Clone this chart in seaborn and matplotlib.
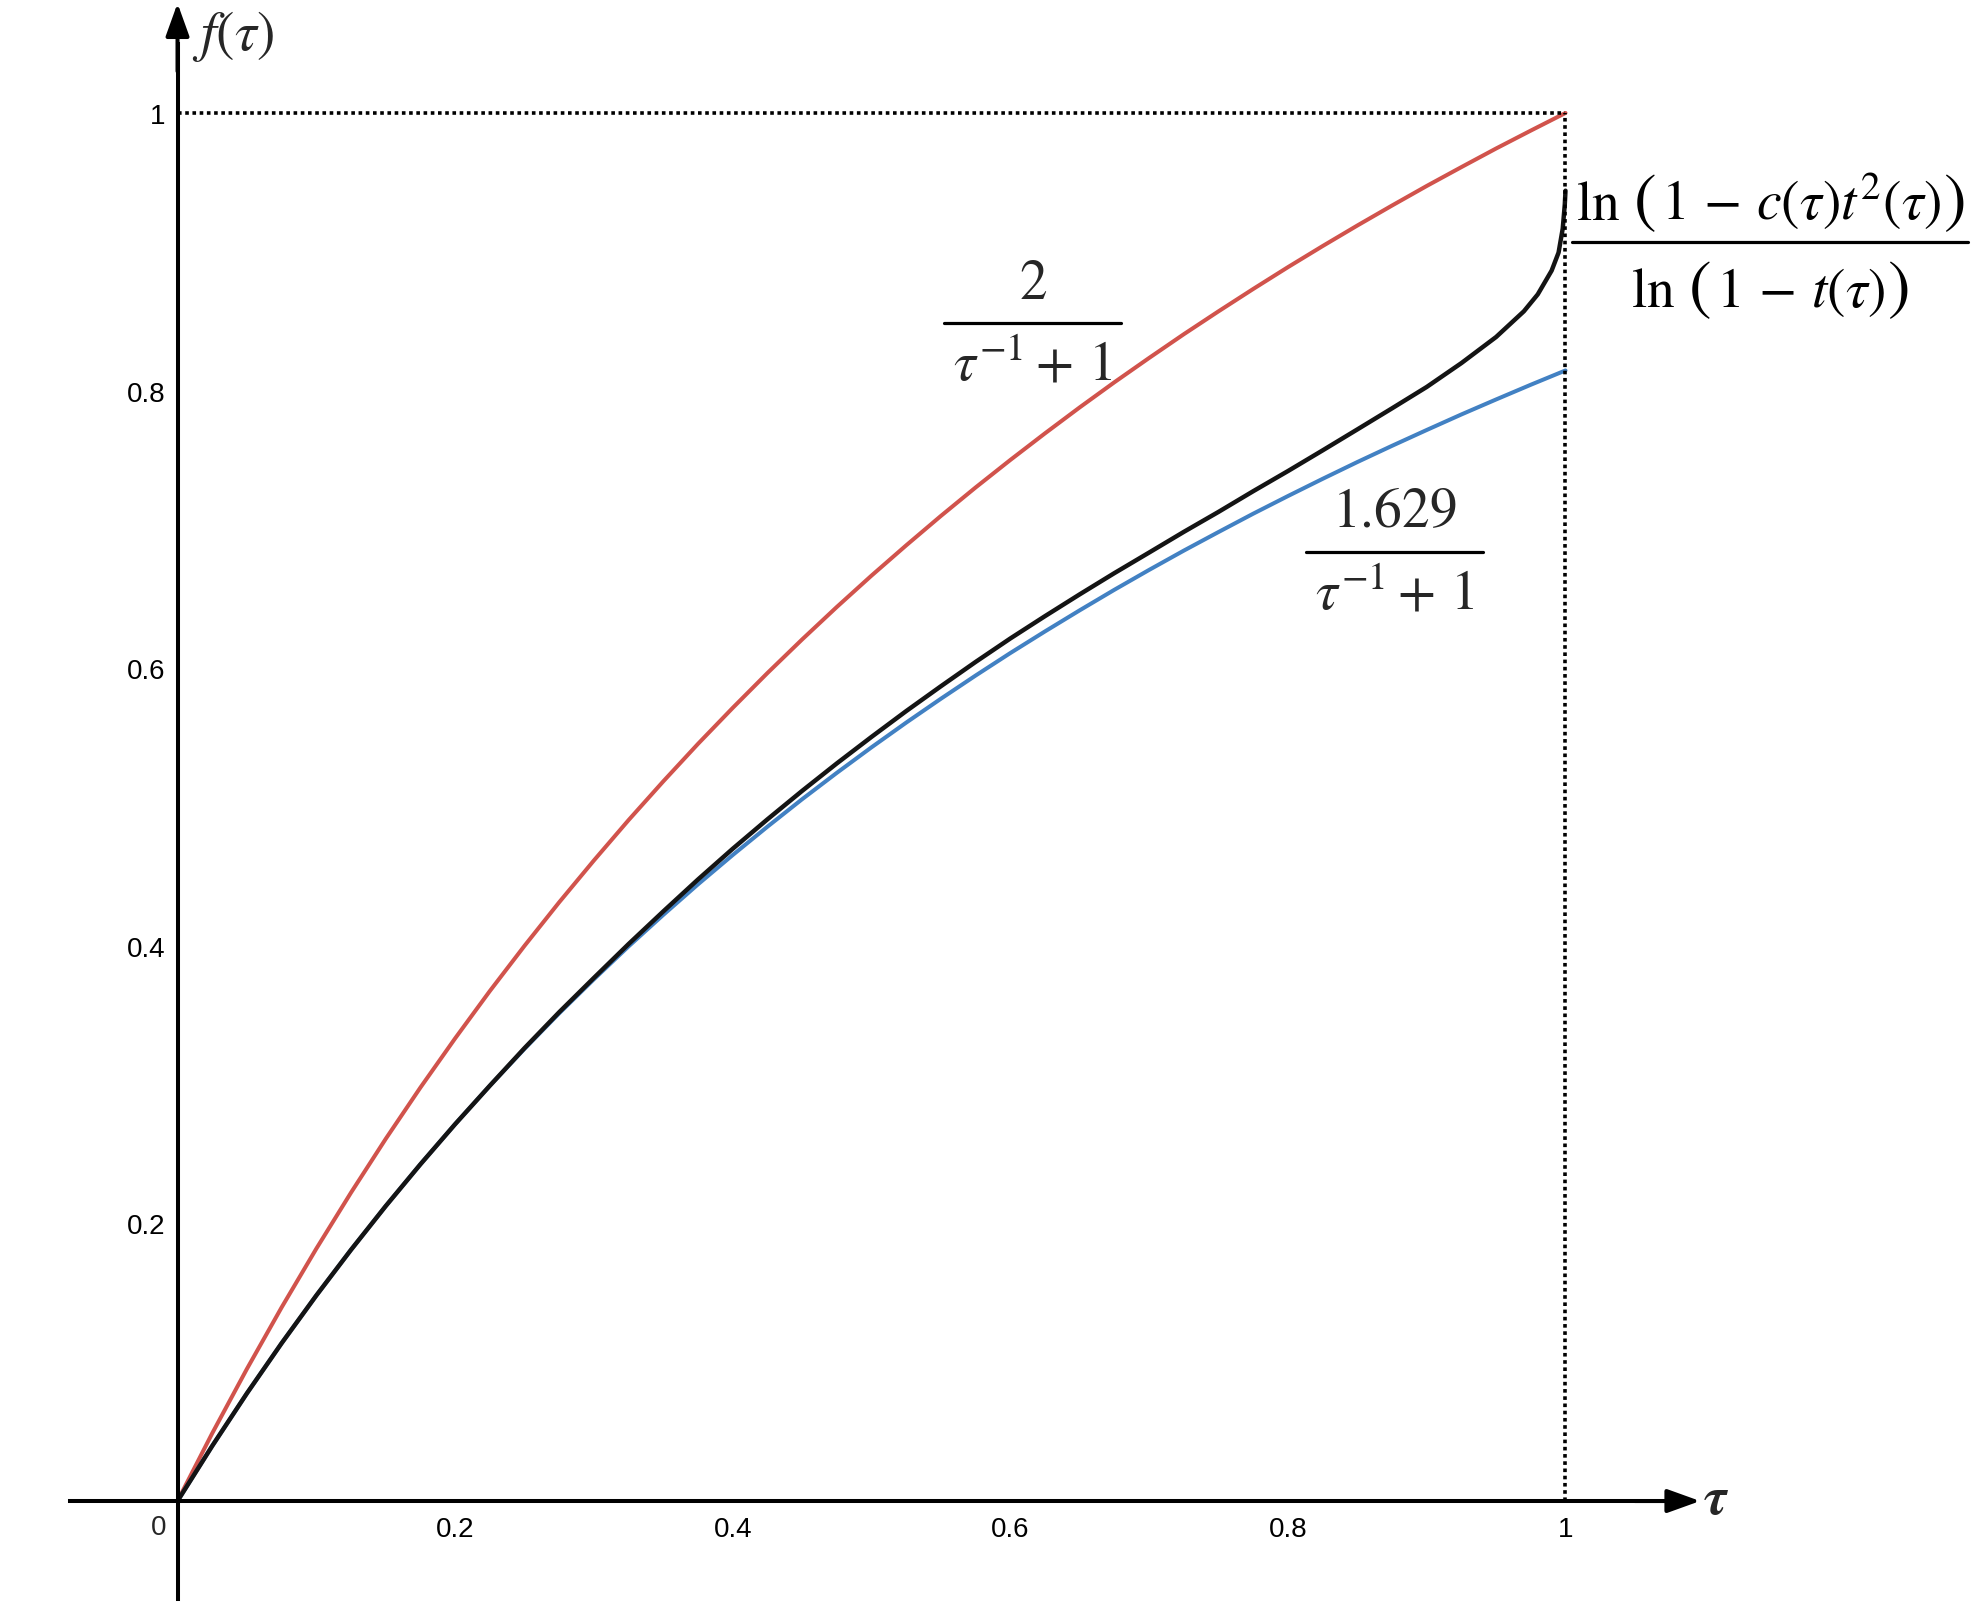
import matplotlib
matplotlib.use("Agg")
import matplotlib.pyplot as plt
from matplotlib.lines import Line2D
from matplotlib.offsetbox import AnnotationBbox, DrawingArea, HPacker, TextArea
from matplotlib.transforms import IdentityTransform
import pandas as pd
import seaborn as sns

# tau grid and the two bound curves
tau = [0.0, 0.025, 0.05, 0.075, 0.1, 0.125, 0.15, 0.175, 0.2, 0.225, 0.25, 0.275,
       0.3, 0.325, 0.35, 0.375, 0.4, 0.425, 0.45, 0.475, 0.5, 0.525, 0.55, 0.575,
       0.6, 0.625, 0.65, 0.675, 0.7, 0.725, 0.75, 0.775, 0.8, 0.825, 0.85, 0.875,
       0.9, 0.925, 0.95, 0.975, 1.0]
upper_bound = [0.0, 0.0488, 0.0952, 0.1395, 0.1818, 0.2222, 0.2609, 0.2979, 0.3333,
               0.3674, 0.4, 0.4314, 0.4615, 0.4906, 0.5185, 0.5455, 0.5714, 0.5965,
               0.6207, 0.6441, 0.6667, 0.6885, 0.7097, 0.7302, 0.75, 0.7692, 0.7879,
               0.806, 0.8235, 0.8406, 0.8571, 0.8732, 0.8889, 0.9041, 0.9189, 0.9333,
               0.9474, 0.961, 0.9744, 0.9873, 1.0]
lower_bound = [0.0, 0.0397, 0.0776, 0.1137, 0.1481, 0.181, 0.2125, 0.2426, 0.2715,
               0.2992, 0.3258, 0.3514, 0.3759, 0.3996, 0.4223, 0.4443, 0.4654, 0.4858,
               0.5056, 0.5246, 0.543, 0.5608, 0.578, 0.5947, 0.6109, 0.6265, 0.6417,
               0.6565, 0.6708, 0.6847, 0.6981, 0.7113, 0.724, 0.7364, 0.7485, 0.7602,
               0.7716, 0.7828, 0.7936, 0.8042, 0.8145]

# the log-ratio curve (black), with extra points where it turns up near tau = 1
tau_ratio = [0.0, 0.025, 0.05, 0.075, 0.1, 0.125, 0.15, 0.175, 0.2, 0.225, 0.25,
             0.275, 0.3, 0.325, 0.35, 0.375, 0.4, 0.425, 0.45, 0.475, 0.5, 0.525,
             0.55, 0.575, 0.6, 0.625, 0.65, 0.675, 0.7, 0.725, 0.75, 0.775, 0.8,
             0.825, 0.85, 0.875, 0.9, 0.925, 0.95, 0.97, 0.98, 0.99, 0.995, 0.998,
             0.9995, 1.0]
log_ratio = [0.0, 0.0397, 0.0776, 0.1137, 0.1481, 0.181, 0.2125, 0.2426, 0.2715,
             0.2992, 0.3263, 0.3522, 0.3769, 0.4013, 0.4248, 0.4478, 0.4699, 0.4911,
             0.5116, 0.5314, 0.5505, 0.5691, 0.587, 0.6045, 0.6214, 0.6375, 0.6532,
             0.6685, 0.6833, 0.6982, 0.7126, 0.7275, 0.742, 0.7569, 0.772, 0.7872,
             0.8026, 0.8198, 0.8386, 0.8571, 0.8693, 0.8864, 0.8994, 0.9167, 0.9343,
             0.944]

x_ticks = [0.2, 0.4, 0.6, 0.8, 1.0]
x_tick_labels = ["0.2", "0.4", "0.6", "0.8", "1"]
y_ticks = [0.2, 0.4, 0.6, 0.8, 1.0]
y_tick_labels = ["0.2", "0.4", "0.6", "0.8", "1"]

RED = "#d1534c"
BLUE = "#4281c3"
BLACK = "#141414"
LABEL_SIZE = 40
PAREN_SIZE = 49


def draw_bar(fig, ax, x, y, bar_px):
    cx, cy = ax.transData.transform((x, y))
    fig.add_artist(Line2D([cx - bar_px / 2, cx + bar_px / 2], [cy, cy], lw=2.3,
                          color="black", transform=IdentityTransform()))


def fraction_label(fig, ax, x, y, numerator, denominator, bar_px,
                   num_gap=25, den_gap=57, size=LABEL_SIZE):
    ax.annotate(numerator, xy=(x, y), xytext=(0, num_gap), textcoords="offset pixels",
                ha="center", va="baseline", fontsize=size)
    ax.annotate(denominator, xy=(x, y), xytext=(0, -den_gap), textcoords="offset pixels",
                ha="center", va="baseline", fontsize=size)
    draw_bar(fig, ax, x, y, bar_px)


def paren_row(inside):
    # "ln ( ... )" with enlarged parentheses, like \Big( ... \Big)
    def txt(text, size):
        return TextArea(text, textprops=dict(fontsize=size, color="black"))

    children = [txt(r"$\ln$", LABEL_SIZE), DrawingArea(7, 1),
                txt(r"$($", PAREN_SIZE), DrawingArea(2, 1),
                txt(inside, LABEL_SIZE), txt(r"$)$", PAREN_SIZE)]
    return HPacker(children=children, align="baseline", pad=0, sep=1)


def log_ratio_label(fig, ax, x, y, bar_px):
    top = AnnotationBbox(paren_row(r"$1\,-\,c(\tau)t^{2}(\tau)$"), (x, y),
                         xybox=(0, 9), xycoords="data", boxcoords="offset pixels",
                         box_alignment=(0.5, 0), frameon=False, pad=0)
    bottom = AnnotationBbox(paren_row(r"$1\,-\,t(\tau)$"), (x, y),
                            xybox=(0, -14), xycoords="data", boxcoords="offset pixels",
                            box_alignment=(0.5, 1), frameon=False, pad=0)
    ax.add_artist(top)
    ax.add_artist(bottom)
    draw_bar(fig, ax, x, y, bar_px)


def main() -> None:
    sns.set_theme(style="white")
    plt.rcParams["font.family"] = ["Liberation Sans", "DejaVu Sans"]
    plt.rcParams["mathtext.fontset"] = "stix"

    fig = plt.figure(figsize=(19.88, 16.06), dpi=100)
    ax = fig.add_axes([0, 0, 1, 1])
    ax.set_xlim(-0.1279, 1.3044)
    ax.set_ylim(-0.0749, 1.0821)

    bounds_df = pd.DataFrame({"tau": tau, "upper": upper_bound, "lower": lower_bound})
    ratio_df = pd.DataFrame({"tau": tau_ratio, "ratio": log_ratio})

    sns.lineplot(data=bounds_df, x="tau", y="upper", color=RED, lw=2.9, ax=ax,
                 estimator=None, sort=False)
    sns.lineplot(data=bounds_df, x="tau", y="lower", color=BLUE, lw=2.9, ax=ax,
                 estimator=None, sort=False)
    sns.lineplot(data=ratio_df, x="tau", y="ratio", color=BLACK, lw=3.2, ax=ax,
                 estimator=None, sort=False)
    ax.set(xlabel="", ylabel="")

    # dotted guides at tau = 1 and f = 1
    ax.hlines(upper_bound[-1], 0, tau[-1], color="black", lw=2.6, linestyle=(0, (1, 1)))
    ax.vlines(tau[-1], 0, upper_bound[-1], color="black", lw=2.6, linestyle=(0, (1, 1)))

    # axes through the origin with arrow heads
    for side in ["top", "right"]:
        ax.spines[side].set_visible(False)
    ax.spines["left"].set_position(("data", 0))
    ax.spines["bottom"].set_position(("data", 0))
    ax.spines["bottom"].set_bounds(-0.0775, 1.07)
    ax.spines["left"].set_bounds(-0.0706, 1.05)
    for side in ["left", "bottom"]:
        ax.spines[side].set_linewidth(2.9)
        ax.spines[side].set_color("black")
    arrow = dict(arrowstyle="-|>,head_length=1.0,head_width=0.36", color="black",
                 lw=2.9, shrinkA=0, shrinkB=0, mutation_scale=20)
    ax.annotate("", xy=(1.097, 0), xytext=(1.05, 0), arrowprops=arrow)
    ax.annotate("", xy=(0, 1.079), xytext=(0, 1.03), arrowprops=arrow)

    ax.set_xticks(x_ticks, x_tick_labels)
    ax.set_yticks(y_ticks, y_tick_labels)
    ax.tick_params(axis="both", direction="inout", length=11, width=2, color="black",
                   labelsize=20, labelcolor="black")
    ax.tick_params(axis="x", pad=5)
    ax.tick_params(axis="y", pad=3)
    ax.annotate("0", xy=(0, 0), xytext=(-8, -9), textcoords="offset points",
                ha="right", va="top", fontsize=20)
    ax.grid(False)

    ax.text(1.1077, 0.001, "\u03c4", family="STIXGeneral", style="italic",
            weight="bold", fontsize=38, ha="center", va="center")
    ax.text(0.0405, 1.056, r"$f(\tau)$", fontsize=40, ha="center", va="center")

    fraction_label(fig, ax, 0.6163, 0.8487, r"$2$", r"$\tau^{-1}+\,1$", 177)
    fraction_label(fig, ax, 0.8767, 0.684, r"$1.629$", r"$\tau^{-1}+\,1$", 177)
    log_ratio_label(fig, ax, 1.1473, 0.9068, 396)

    fig.savefig("out.png", dpi=100, facecolor="white")
    plt.close(fig)


if __name__ == "__main__":
    main()
